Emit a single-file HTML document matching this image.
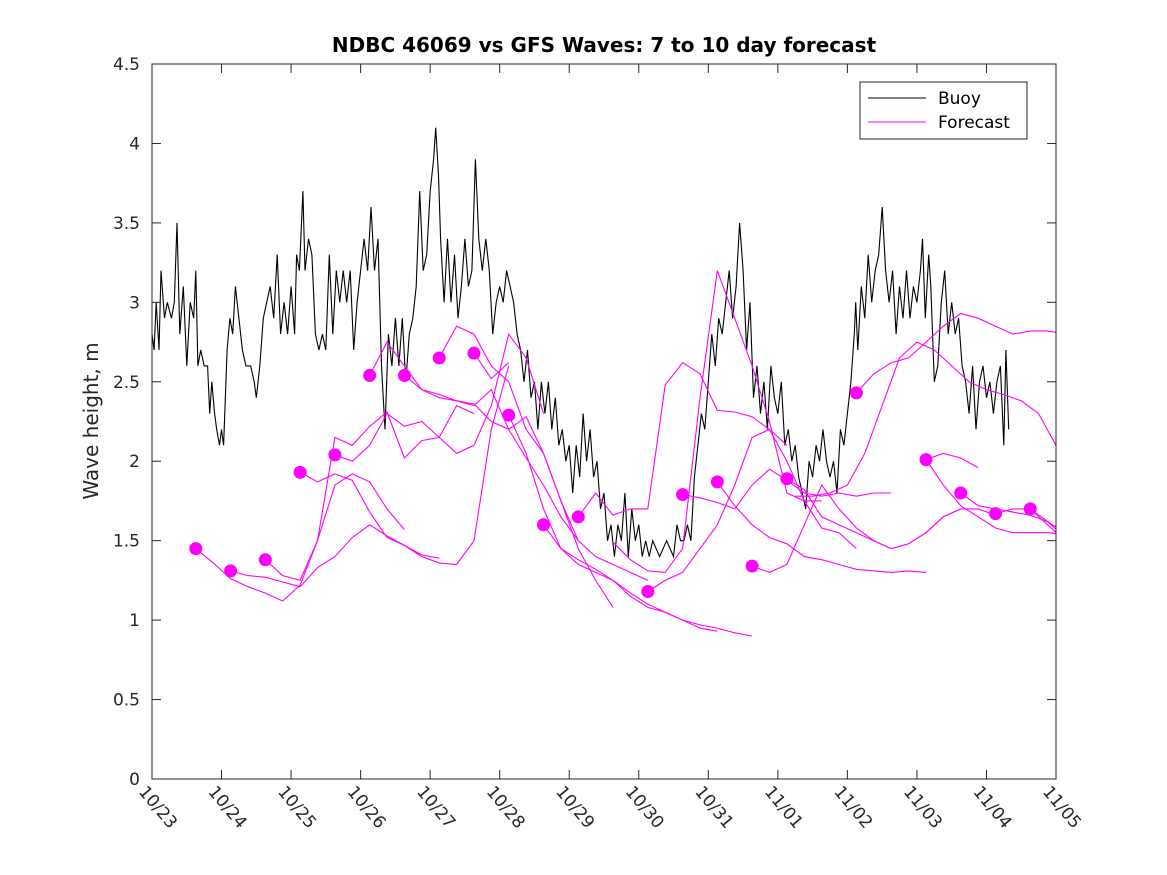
<!DOCTYPE html>
<html><head><meta charset="utf-8"><style>
body{margin:0;background:#fff;}
svg{display:block;font-family:"DejaVu Sans","Liberation Sans",sans-serif;}
</style></head><body>
<svg id="chart" width="1167" height="875" viewBox="0 0 1167 875">
<rect x="0" y="0" width="1167" height="875" fill="#fff"/>
<text x="604" y="52" text-anchor="middle" font-size="20" font-weight="bold" fill="#000">NDBC 46069 vs GFS Waves: 7 to 10 day forecast</text>
<text transform="translate(98,421) rotate(-90)" text-anchor="middle" font-size="20" fill="#262626">Wave height, m</text>
<g id="plot"></g>
<g id="axes"></g>
<g>
<rect x="860" y="82" width="167" height="57" fill="#fff" stroke="#262626" stroke-width="1"/>
<line x1="868" y1="98" x2="926" y2="98" stroke="#000" stroke-width="1"/>
<text x="938" y="104" font-size="17" fill="#000">Buoy</text>
<line x1="868" y1="122" x2="926" y2="122" stroke="#ff00ff" stroke-width="1"/>
<text x="938" y="128" font-size="17" fill="#000">Forecast</text>
</g>
</svg>
<script>
const xTickLabels=["10/23","10/24","10/25","10/26","10/27","10/28","10/29","10/30","10/31","11/01","11/02","11/03","11/04","11/05"];
const yTickValues=[0,0.5,1,1.5,2,2.5,3,3.5,4,4.5];
const buoyDays=[0,0.03,0.06,0.1,0.13,0.18,0.22,0.28,0.32,0.36,0.4,0.45,0.5,0.55,0.6,0.63,0.66,0.7,0.75,0.8,0.83,0.86,0.9,0.93,0.97,1.0,1.03,1.08,1.12,1.16,1.2,1.25,1.3,1.35,1.42,1.47,1.5,1.55,1.6,1.65,1.7,1.75,1.8,1.85,1.9,1.95,2.0,2.05,2.08,2.12,2.17,2.2,2.25,2.3,2.35,2.4,2.45,2.5,2.55,2.6,2.65,2.7,2.75,2.8,2.85,2.9,2.95,3.0,3.05,3.1,3.15,3.2,3.25,3.3,3.35,3.4,3.45,3.5,3.55,3.6,3.65,3.7,3.75,3.8,3.85,3.9,3.95,4.0,4.05,4.08,4.12,4.15,4.2,4.25,4.3,4.35,4.4,4.45,4.5,4.55,4.6,4.65,4.7,4.75,4.8,4.85,4.9,4.95,5.0,5.05,5.1,5.15,5.2,5.25,5.3,5.35,5.4,5.45,5.5,5.55,5.6,5.65,5.7,5.75,5.8,5.85,5.9,5.95,6.0,6.05,6.1,6.15,6.2,6.25,6.3,6.35,6.4,6.45,6.5,6.55,6.6,6.65,6.7,6.75,6.8,6.85,6.9,6.95,7.0,7.05,7.1,7.15,7.2,7.3,7.4,7.5,7.55,7.6,7.65,7.7,7.75,7.8,7.85,7.9,7.95,8.0,8.05,8.1,8.15,8.2,8.25,8.3,8.35,8.4,8.45,8.5,8.55,8.6,8.65,8.7,8.75,8.8,8.85,8.9,8.95,9.0,9.05,9.1,9.15,9.2,9.25,9.3,9.35,9.4,9.45,9.5,9.55,9.6,9.65,9.7,9.75,9.8,9.85,9.9,9.95,10.0,10.05,10.1,10.12,10.15,10.2,10.25,10.3,10.35,10.4,10.45,10.5,10.55,10.6,10.65,10.7,10.75,10.8,10.85,10.9,10.95,11.0,11.05,11.08,11.12,11.17,11.2,11.25,11.3,11.35,11.4,11.45,11.5,11.55,11.6,11.65,11.7,11.75,11.8,11.85,11.9,11.95,12.0,12.05,12.1,12.15,12.2,12.25,12.28,12.32];
const buoyVals=[2.8,2.7,3.0,2.7,3.2,2.9,3.0,2.9,3.0,3.5,2.8,3.1,2.6,3.0,2.9,3.2,2.6,2.7,2.6,2.6,2.3,2.5,2.3,2.2,2.1,2.2,2.1,2.7,2.9,2.8,3.1,2.9,2.7,2.6,2.6,2.5,2.4,2.6,2.9,3.0,3.1,2.9,3.3,2.8,3.0,2.8,3.1,2.8,3.3,3.2,3.7,3.2,3.4,3.3,2.8,2.7,2.8,2.7,3.3,2.8,3.2,3.0,3.2,3.0,3.2,2.7,3.0,3.2,3.4,3.2,3.6,3.2,3.4,2.6,2.2,2.8,2.6,2.9,2.6,2.9,2.5,2.8,2.9,3.1,3.7,3.2,3.3,3.7,3.9,4.1,3.8,3.4,3.0,3.4,3.0,3.3,2.9,3.1,3.4,3.1,3.2,3.9,3.4,3.2,3.4,3.2,2.8,3.0,3.1,3.0,3.2,3.1,3.0,2.8,2.7,2.5,2.7,2.4,2.5,2.2,2.5,2.3,2.5,2.2,2.4,2.1,2.2,2.0,2.1,1.8,2.1,1.9,2.3,2.0,2.2,1.9,2.0,1.7,1.8,1.5,1.6,1.4,1.6,1.5,1.8,1.4,1.7,1.5,1.6,1.4,1.5,1.4,1.5,1.4,1.5,1.4,1.6,1.5,1.5,1.6,1.5,1.9,2.1,2.3,2.2,2.5,2.8,2.6,2.9,2.8,3.0,3.2,2.9,3.1,3.5,3.2,2.7,3.0,2.4,2.6,2.3,2.5,2.2,2.6,2.4,2.3,2.5,2.1,2.2,2.0,2.1,1.9,1.8,1.7,2.0,1.9,2.1,2.0,2.2,2.0,1.9,2.0,1.8,2.2,2.1,2.3,2.5,2.8,3.0,2.7,3.1,2.9,3.3,3.0,3.2,3.3,3.6,3.2,3.0,3.2,2.8,3.1,2.9,3.2,2.9,3.1,3.0,3.2,3.4,2.9,3.3,3.1,2.5,2.6,3.0,3.2,2.8,3.0,2.8,2.9,2.6,2.5,2.3,2.6,2.2,2.5,2.6,2.4,2.5,2.3,2.5,2.6,2.1,2.7,2.2];
const runStarts=[0.63,1.13,1.63,2.13,2.63,3.13,3.63,4.13,4.63,5.13,5.63,6.13,6.63,7.13,7.63,8.13,8.63,9.13,9.25,10.13,11.13,11.13,11.63,12.13,12.63];
const runDots=[1,1,1,1,1,1,1,1,1,1,1,1,0,1,1,1,1,1,0,1,1,0,1,1,1];
const run1=[1.45,1.36,1.26,1.21,1.17,1.12,1.22,1.50,1.85,1.92,1.87,1.70,1.57];
const run2=[1.31,1.28,1.27,1.24,1.21,1.33,1.40,1.52,1.60,1.53,1.47,1.41,1.39];
const run3=[1.38,1.28,1.25,1.50,2.15,2.10,2.22,2.31,2.02,2.13,2.15,2.35,2.30];
const run4=[1.93,1.87,1.92,1.88,1.68,1.52,1.47,1.40,1.36,1.35,1.50,2.20,2.60];
const run5=[2.04,2.00,2.10,2.30,2.22,2.25,2.15,2.05,2.10,2.35,2.80,2.65,2.30];
const run6=[2.54,2.75,2.60,2.45,2.42,2.38,2.36,2.25,2.20,2.02,1.85,1.65,1.50];
const run7=[2.54,2.45,2.40,2.38,2.35,2.45,2.20,2.28,2.05,1.75,1.45,1.25,1.08];
const run8=[2.65,2.85,2.80,2.60,2.50,2.20,2.05,1.75,1.50,1.40,1.35,1.30,1.25];
const run9=[2.68,2.52,2.62];
const run10=[2.29,2.05,1.70,1.45,1.35,1.30,1.25,1.17,1.10,1.05,1.00,0.95,0.93];
const run11=[1.60,1.45,1.38,1.32,1.25,1.15,1.08,1.05,1.00,0.97,0.95,0.92,0.90];
const run12=[1.65,1.80,1.66,1.70,1.70,2.48,2.62,2.55,2.32,2.31,2.28,2.20,2.10];
const run13=[1.49,1.38,1.31,1.30,1.45,2.40,3.20,2.90,2.60,2.25,1.80,1.75,1.75];
const run14=[1.18,1.25,1.30,1.45,1.60,1.85,2.15,2.20,2.00,1.75,1.58,1.55,1.45];
const run15=[1.79,1.77,1.74,1.70,1.85,1.95,1.88,1.80,1.78,1.80,1.78,1.80,1.80];
const run16=[1.87,1.72,1.60,1.52,1.48,1.40,1.38,1.35,1.32,1.31,1.30,1.31,1.30];
const run17=[1.34,1.30,1.35,1.60,1.85,1.70,1.58,1.50,1.45,1.48,1.55,1.65,1.70];
const run18=[1.89,1.82,1.65,1.60,1.55,1.50,1.45,1.48,1.55,1.65,1.70,1.70,1.66];
const run19=[1.78,1.78,1.80,1.85,2.05,2.35,2.65,2.75,2.70,2.60,2.50,2.45,2.42,2.38,2.30,2.10,1.90];
const run20=[2.43,2.55,2.62,2.65,2.75,2.85,2.93,2.90,2.85,2.80,2.82,2.82,2.80];
const run21=[2.01,1.85,1.72,1.65,1.58,1.55,1.55,1.55,1.54,1.52,1.48];
const run22=[2.01,2.05,2.02,1.96];
const run23=[1.80,1.72,1.70,1.68,1.66,1.62,1.55,1.50];
const run24=[1.67,1.70,1.70,1.60,1.50];
const run25=[1.70,1.62,1.52];
const runs=[run1,run2,run3,run4,run5,run6,run7,run8,run9,run10,run11,run12,run13,run14,run15,run16,run17,run18,run19,run20,run21,run22,run23,run24,run25];

const X0=152,X1=1056,Y0=779,Y1=64,DAYS=13,YMAX=4.5,STEP=0.25;
const xs=d=>X0+(X1-X0)*d/DAYS;
const ys=v=>Y0-(Y0-Y1)*v/YMAX;
const NS="http://www.w3.org/2000/svg";
const plot=document.getElementById('plot');
const axes=document.getElementById('axes');
function mk(tag,attrs,parent){const e=document.createElementNS(NS,tag);for(const k in attrs)e.setAttribute(k,attrs[k]);parent.appendChild(e);return e;}

const defs=mk('defs',{},plot);
const cp=mk('clipPath',{id:'clipArea'},defs);
mk('rect',{x:X0,y:Y1,width:X1-X0,height:Y0-Y1},cp);
const g=mk('g',{'clip-path':'url(#clipArea)'},plot);

let d='';
for(let i=0;i<buoyDays.length;i++){d+=(i?'L':'M')+xs(buoyDays[i]).toFixed(1)+' '+ys(buoyVals[i]).toFixed(1);}
const bl=mk('path',{d:d,fill:'none',stroke:'#000','stroke-width':1.1},g);



runs.forEach((r,k)=>{
  let p='';
  r.forEach((v,i)=>{p+=(i?'L':'M')+xs(runStarts[k]+i*STEP).toFixed(1)+' '+ys(v).toFixed(1);});
  const pl=mk('path',{d:p,fill:'none',stroke:'#ff00ff','stroke-width':1.1},g);
  
  
});
runs.forEach((r,k)=>{
  if(!runDots[k])return;
  const c=mk('circle',{cx:xs(runStarts[k]),cy:ys(r[0]),r:6.5,fill:'#ff00ff'},g);
  
  
});

mk('rect',{x:X0,y:Y1,width:X1-X0,height:Y0-Y1,fill:'none',stroke:'#262626','stroke-width':1},axes);
yTickValues.forEach(v=>{
  const y=ys(v);
  mk('line',{x1:X0,y1:y,x2:X0+9,y2:y,stroke:'#262626'},axes);
  mk('line',{x1:X1,y1:y,x2:X1-9,y2:y,stroke:'#262626'},axes);
  const t=mk('text',{x:X0-12,y:y+6,'text-anchor':'end','font-size':17,fill:'#262626'},axes);
  t.textContent=String(v);
  
  
});
xTickLabels.forEach((lab,i)=>{
  const x=xs(i);
  mk('line',{x1:x,y1:Y0,x2:x,y2:Y0-9,stroke:'#262626'},axes);
  mk('line',{x1:x,y1:Y1,x2:x,y2:Y1+9,stroke:'#262626'},axes);
  const t=mk('text',{x:0,y:0,transform:`translate(${x-14},${Y0+13}) rotate(50)`,'font-size':17,fill:'#262626'},axes);
  t.textContent=lab;
  
  
});
</script>
</body></html>
